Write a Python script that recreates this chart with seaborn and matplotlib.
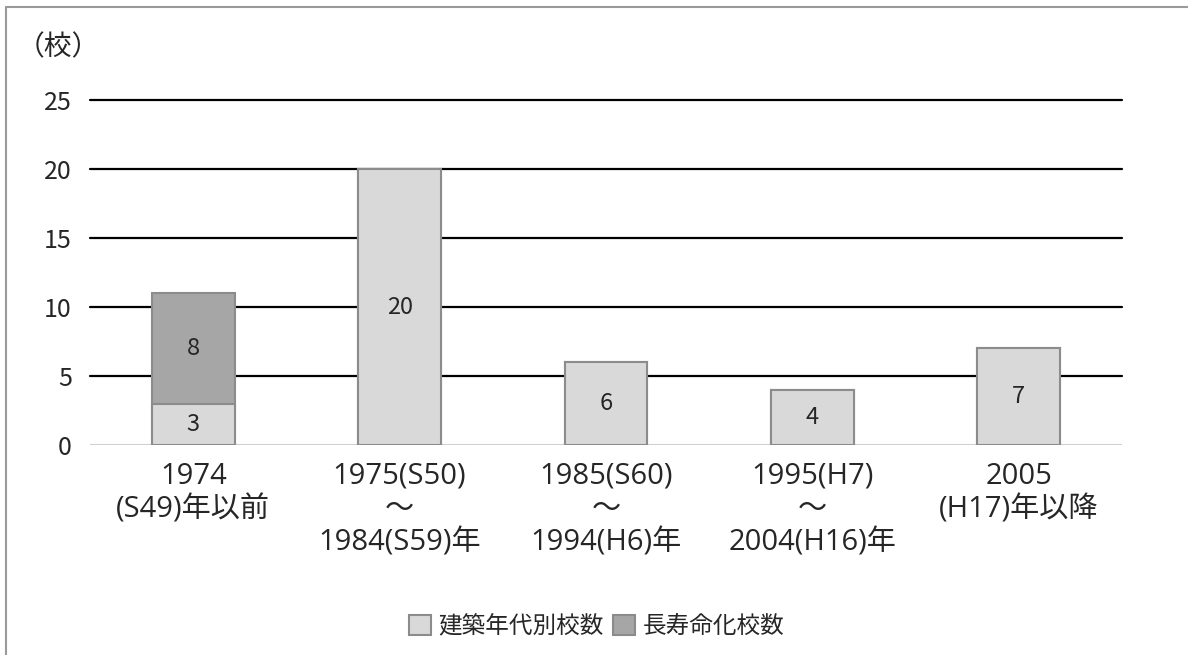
import matplotlib
matplotlib.use('Agg')
import matplotlib.pyplot as plt
import seaborn as sns
import pandas as pd
from matplotlib.patches import Patch
from matplotlib.lines import Line2D

# データ
categories = ['1974\n(S49)年以前', '1975(S50)\n～\n1984(S59)年', '1985(S60)\n～\n1994(H6)年',
              '1995(H7)\n～\n2004(H16)年', '2005\n(H17)年以降']
built_counts = [3, 20, 6, 4, 7]       # 建築年代別校数
extended_counts = [8, 0, 0, 0, 0]     # 長寿命化校数
series_names = ['建築年代別校数', '長寿命化校数']
y_ticks = [0, 5, 10, 15, 20, 25]

sns.set_theme(style='white')
plt.rcParams['font.family'] = ['Noto Sans CJK JP', 'DejaVu Sans']
wide = ['Open Sans', 'Noto Sans CJK JP']

df = pd.DataFrame({'cat': categories, 'built': built_counts, 'ext': extended_counts})
df['total'] = df['built'] + df['ext']

fig = plt.figure(figsize=(11.88, 6.55), dpi=100)
ax = fig.add_axes([0.0758, 0.3206, 0.8686, 0.5267])

light = '#d9d9d9'
dark = '#a6a6a6'
edge = '#8c8c8c'

# グリッド線
for t in y_ticks[1:]:
    ax.axhline(t, color='black', lw=1.6, zorder=0, clip_on=False)
ax.axhline(0, color='#d0d0d0', lw=1.5, zorder=0)

# 積み上げ: 合計(濃) → 下段(淡)
sns.barplot(data=df, x='cat', y='total', color=dark, saturation=1, width=0.4,
            edgecolor=edge, linewidth=1.5, ax=ax, zorder=2)
sns.barplot(data=df, x='cat', y='built', color=light, saturation=1, width=0.4,
            edgecolor=edge, linewidth=1.5, ax=ax, zorder=3)

# 値ラベル
for i, (b, e) in enumerate(zip(built_counts, extended_counts)):
    ax.text(i, b / 2, str(b), ha='center', va='center', fontsize=17, zorder=5)
    if e > 0:
        ax.text(i, b + e / 2, str(e), ha='center', va='center', fontsize=17, zorder=5)

ax.set_xlim(-0.5, 4.5)
ax.set_ylim(0, 25)
ax.set_yticks(y_ticks)
ax.set_yticklabels([str(t) for t in y_ticks], fontsize=18)
ax.tick_params(axis='y', length=0, pad=13)
ax.tick_params(axis='x', length=0, pad=12)
ax.set_xticks(range(len(categories)))
ax.set_xticklabels(categories, fontsize=21, linespacing=1.2, va='top', family=wide)
ax.set_xlabel('')
ax.set_ylabel('')
for s in ax.spines.values():
    s.set_visible(False)

fig.text(0.014, 0.928, '（校）', fontsize=20, ha='left', va='center')

handles = [Patch(facecolor=light, edgecolor=edge, linewidth=1.5),
           Patch(facecolor=dark, edgecolor=edge, linewidth=1.5)]
fig.legend(handles, series_names, loc='center', bbox_to_anchor=(0.502, 0.044), ncol=2,
           frameon=False, fontsize=17, handlelength=0.95, handleheight=0.95,
           handletextpad=0.3, columnspacing=0.4)

# 外枠(上と左のみ)
fig.add_artist(Line2D([6 / 1188, 1], [1 - 7 / 655, 1 - 7 / 655], color='#9a9a9a', lw=1.5))
fig.add_artist(Line2D([6 / 1188, 6 / 1188], [0, 1 - 7 / 655], color='#9a9a9a', lw=1.5))

fig.savefig('out.png', dpi=100)
